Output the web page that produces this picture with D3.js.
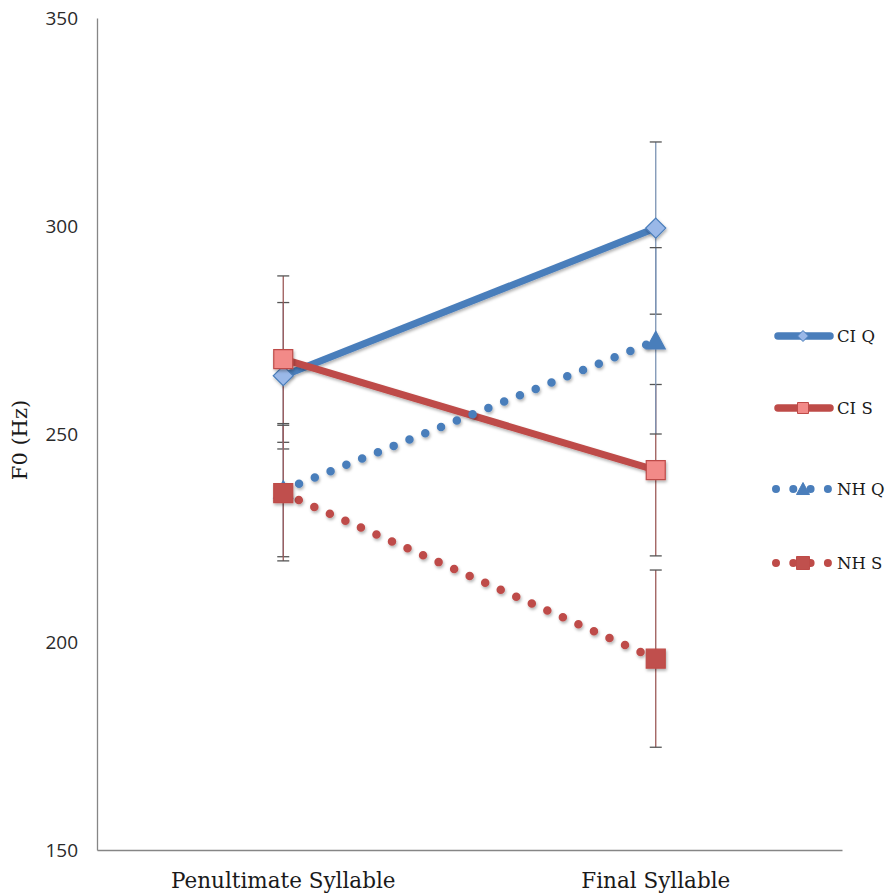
<!DOCTYPE html>
<html><head><meta charset="utf-8">
<script src="https://cdn.jsdelivr.net/npm/d3@7"></script>
<style>body{margin:0;background:#fff}</style>
</head><body>
<svg id="c" width="888" height="896"></svg>
<script>
const categories = ["Penultimate Syllable", "Final Syllable"];
const seriesNames = ["CI Q", "CI S", "NH Q", "NH S"];
const ciQ = [264, 299.5];
const ciS = [268, 241.3];
const nhQ = [236.5, 272.4];
const nhS = [235.8, 196];
const ciQErr = [17.6, 20.7];
const ciSErr = [20, 20.6];
const nhQErr = [16, 22.4];
const nhSErr = [16.3, 21.3];
const yTicks = [150, 200, 250, 300, 350];

(function(){
const series = [
  {name: seriesNames[0], values: ciQ, err: ciQErr, color: "#4a7ebb", dotted: false, marker: "diamond", fill: "#9ab8e8", errColor: "#7c93b3"},
  {name: seriesNames[1], values: ciS, err: ciSErr, color: "#be4b48", dotted: false, marker: "square", fill: "#f28a88", errColor: "#9c5a58"},
  {name: seriesNames[2], values: nhQ, err: nhQErr, color: "#4a7ebb", dotted: true, marker: "triangle", fill: "#4a7ebb", errColor: "#7c93b3"},
  {name: seriesNames[3], values: nhS, err: nhSErr, color: "#be4b48", dotted: true, marker: "square", fill: "#c0504d", errColor: "#9c5a58"}
];

const svg = d3.select("#c");
const defs = svg.append("defs");
const f = defs.append("filter").attr("id","sh").attr("x","-50%").attr("y","-50%").attr("width","200%").attr("height","200%");
f.append("feDropShadow").attr("dx",1).attr("dy",2).attr("stdDeviation",1.5).attr("flood-color","#000").attr("flood-opacity",0.3);

const mL = 97, mT = 18, mR = 842, mB = 850;
const x = d3.scaleBand().domain(categories).range([mL, mR]);
const y = d3.scaleLinear().domain([150, 350]).range([mB, mT]);
const cx = c => x(c) + x.bandwidth()/2;

const yAxis = d3.axisLeft(y).tickValues(yTicks).tickSize(0).tickPadding(19);
const gy = svg.append("g").attr("transform", `translate(${mL},0)`).call(yAxis);
gy.select(".domain").attr("stroke", "#868686").attr("stroke-width", 1.3);
gy.selectAll("text").attr("font-family", "'Open Sans', sans-serif").attr("font-size", 19).attr("fill", "#2a2a2a");

const xAxis = d3.axisBottom(x).tickSize(0).tickPadding(23);
const gx = svg.append("g").attr("transform", `translate(0,${mB})`).call(xAxis);
gx.select(".domain").attr("stroke", "#868686").attr("stroke-width", 1.3);
gx.selectAll("text").attr("font-family", "'DejaVu Serif', serif").attr("font-size", 21.5).attr("fill", "#1a1a1a");

svg.append("text").attr("transform", `translate(27,${440}) rotate(-90)`)
  .attr("text-anchor","middle").attr("font-family","'DejaVu Serif', serif").attr("font-size",21).attr("fill","#1a1a1a").text("F0 (Hz)");

series.forEach(s => {
  const g = svg.append("g");
  s.values.forEach((v,i) => {
    const px = cx(categories[i]);
    const y1 = y(v + s.err[i]), y2 = y(v - s.err[i]);
    g.append("line").attr("x1",px).attr("x2",px).attr("y1",y1).attr("y2",y2).attr("stroke",s.errColor).attr("stroke-width",1.3);
    [y1,y2].forEach(yy => g.append("line").attr("x1",px-6).attr("x2",px+6).attr("y1",yy).attr("y2",yy).attr("stroke","#555").attr("stroke-width",1.3));
  });
});

const line = d3.line().x((d,i)=>cx(categories[i])).y(d=>y(d));
series.forEach(s => {
  const p = svg.append("path").datum(s.values).attr("d", line).attr("fill","none")
    .attr("stroke", s.color).attr("stroke-width", s.dotted ? 8.5 : 7).attr("filter","url(#sh)");
  if (s.dotted) p.attr("stroke-dasharray","0,17").attr("stroke-linecap","round");
});

function markerPath(type, size){
  const h = size/2;
  if (type==="diamond") return `M0,${-h}L${h},0L0,${h}L${-h},0Z`;
  if (type==="square") return `M${-h},${-h}H${h}V${h}H${-h}Z`;
  if (type==="triangle") return `M0,${-h}L${h},${h*0.85}L${-h},${h*0.85}Z`;
}
series.forEach(s => {
  s.values.forEach((v,i)=>{
    svg.append("path").attr("d", markerPath(s.marker, s.marker==="diamond"?20:19))
      .attr("transform",`translate(${cx(categories[i])},${y(v)})`)
      .attr("fill", s.fill).attr("stroke", s.color).attr("stroke-width",1.2).attr("filter","url(#sh)");
  });
});

const legY = [336, 408, 489, 563];
series.forEach((s,i)=>{
  const g = svg.append("g").attr("transform",`translate(0,${legY[i]})`);
  const ln = g.append("line").attr("x1",s.dotted?776:778).attr("x2",s.dotted?828:830).attr("y1",0).attr("y2",0)
    .attr("stroke",s.color).attr("stroke-width",s.dotted?8:7.5).attr("stroke-linecap","round");
  if (s.dotted) ln.attr("stroke-dasharray","0,17.3");
  g.append("path").attr("d", markerPath(s.marker, s.dotted?13:11)).attr("transform","translate(803,0)")
    .attr("fill", s.fill).attr("stroke", s.color).attr("stroke-width",1);
  g.append("text").attr("x",837).attr("y",6).attr("font-family","'DejaVu Serif', serif").attr("font-size",16.5).attr("fill","#1a1a1a").text(s.name);
});
})();
</script>
</body></html>
